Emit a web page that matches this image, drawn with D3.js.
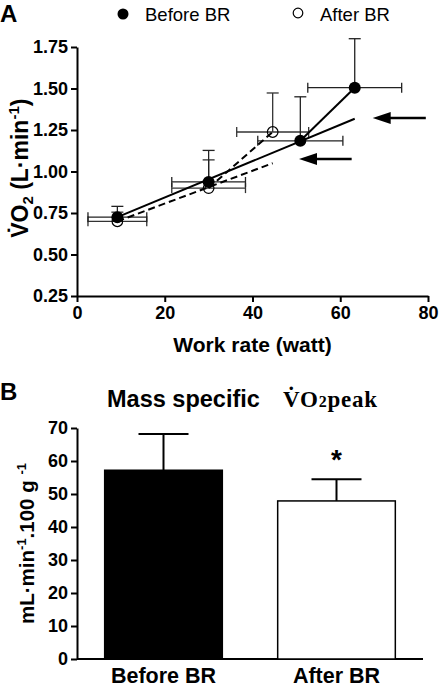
<!DOCTYPE html>
<html><head><meta charset="utf-8">
<script src="https://cdn.jsdelivr.net/npm/d3@7"></script>
<style>
body{margin:0;background:#fff;}
svg{display:block;font-family:Arial,"Liberation Sans",Helvetica,sans-serif;}
</style></head>
<body>
<svg id="c" width="440" height="687"></svg>
<script>
// ---------- Panel A data ----------
const beforeX   = [9.2, 30.0, 50.9, 63.3];
const beforeY   = [0.725, 0.937, 1.185, 1.505];
const beforeXErr= [6.7, 8.4, 9.7, 10.7];
const beforeYErr= [0.065, 0.19, 0.265, 0.295];

const afterX    = [9.2, 30.0, 44.6];
const afterY    = [0.70, 0.90, 1.238];
const afterXErr = [6.7, 8.4, 8.2];
const afterYErr = [0.055, 0.17, 0.235];

const beforeFit = [[9.2, 0.725], [63.3, 1.318]];
const afterFit  = [[9.2, 0.70], [44.6, 1.05]];
const arrows    = [[79.5, 67.4, 1.322], [62.6, 50.6, 1.075]]; // tail x, tip x, y

const xTicksA = [0, 20, 40, 60, 80];
const yTicksA = [0.25, 0.50, 0.75, 1.00, 1.25, 1.50, 1.75];

// ---------- Panel B data ----------
const groupsB = ["Before BR", "After BR"];
const meansB  = [57.2, 47.9];
const sdB     = [11.0, 6.6];
const yTicksB = [0, 10, 20, 30, 40, 50, 60, 70];

const svg = d3.select("#c");

// ================= Panel A =================
const xA = d3.scaleLinear().domain([0, 80]).range([77, 428]);
const yA = d3.scaleLinear().domain([0.25, 1.75]).range([296, 47]);

const gA = svg.append("g");
const axA = gA.append("g").attr("transform", `translate(0,${yA(0.25)})`)
  .call(d3.axisBottom(xA).tickValues(xTicksA).tickSize(6).tickSizeOuter(0).tickPadding(4).tickFormat(d3.format("d")));
const ayA = gA.append("g").attr("transform", `translate(${xA(0)},0)`)
  .call(d3.axisLeft(yA).tickValues(yTicksA).tickSize(6).tickSizeOuter(0).tickPadding(3).tickFormat(d3.format(".2f")));
[axA, ayA].forEach(a => {
  a.select(".domain").attr("stroke", "#000").attr("stroke-width", 2);
  a.selectAll(".tick line").attr("stroke", "#000").attr("stroke-width", 2);
  a.selectAll(".tick text").attr("font-size", 18).attr("font-weight", "bold").attr("fill", "#000")
    .attr("font-family", "Arial, 'Liberation Sans', sans-serif");
});

gA.append("text").attr("x", xA(40)).attr("y", 352).attr("text-anchor", "middle")
  .attr("font-size", 21).attr("font-weight", "bold").text("Work rate (watt)");

const yt = gA.append("text").attr("transform", `translate(28,${yA(1.02)}) rotate(-90)`)
  .attr("text-anchor", "middle").attr("font-size", 23).attr("font-weight", "bold");
yt.append("tspan").text("V\u0307O");
yt.append("tspan").attr("font-size", 15).attr("dy", 5).text("2");
yt.append("tspan").attr("dy", -5).text(" (L\u00B7min");
yt.append("tspan").attr("font-size", 15).attr("dy", -9).text("-1");
yt.append("tspan").attr("dy", 9).text(")");

gA.append("text").attr("x", 0).attr("y", 22).attr("font-size", 24).attr("font-weight", "bold").text("A");

// legend
gA.append("circle").attr("cx", 123).attr("cy", 14).attr("r", 5.5).attr("fill", "#000");
gA.append("text").attr("x", 145).attr("y", 20.5).attr("font-size", 18.5).text("Before BR");
gA.append("circle").attr("cx", 298).attr("cy", 13).attr("r", 4.8).attr("fill", "#fff").attr("stroke", "#000").attr("stroke-width", 1.2);
gA.append("text").attr("x", 320).attr("y", 20.5).attr("font-size", 18.5).text("After BR");

// error bars helper
function errBars(xs, ys, xe, ye, color) {
  xs.forEach((x, i) => {
    const cx = xA(x), cy = yA(ys[i]);
    const x0 = xA(x - xe[i]), x1 = xA(x + xe[i]), yt = yA(ys[i] + ye[i]);
    const g = gA.append("g").attr("stroke", color).attr("stroke-width", 1.3).attr("fill", "none");
    g.append("line").attr("x1", x0).attr("x2", x1).attr("y1", cy).attr("y2", cy);
    g.append("line").attr("x1", x0).attr("x2", x0).attr("y1", cy - 5).attr("y2", cy + 5);
    g.append("line").attr("x1", x1).attr("x2", x1).attr("y1", cy - 5).attr("y2", cy + 5);
    g.append("line").attr("x1", cx).attr("x2", cx).attr("y1", cy).attr("y2", yt);
    g.append("line").attr("x1", cx - 6).attr("x2", cx + 6).attr("y1", yt).attr("y2", yt);
  });
}
errBars(afterX, afterY, afterXErr, afterYErr, "#333");
errBars(beforeX, beforeY, beforeXErr, beforeYErr, "#222");

const line = d3.line().x(d => xA(d[0])).y(d => yA(d[1]));
// fits
gA.append("path").attr("d", line(beforeFit)).attr("stroke", "#000").attr("stroke-width", 2).attr("fill", "none");
gA.append("path").attr("d", line(afterFit)).attr("stroke", "#000").attr("stroke-width", 2)
  .attr("stroke-dasharray", "7,4").attr("fill", "none");
// break segments
gA.append("path").attr("d", line([[beforeX[2], beforeY[2]], [beforeX[3], beforeY[3]]]))
  .attr("stroke", "#000").attr("stroke-width", 2).attr("fill", "none");
gA.append("path").attr("d", line([[afterX[1], afterY[1]], [afterX[2], afterY[2]]]))
  .attr("stroke", "#000").attr("stroke-width", 2).attr("stroke-dasharray", "7,4").attr("fill", "none");

// points
gA.selectAll(".pa").data(afterX).enter().append("circle")
  .attr("cx", d => xA(d)).attr("cy", (d, i) => yA(afterY[i])).attr("r", 5.3)
  .attr("fill", "none").attr("stroke", "#000").attr("stroke-width", 1.2);
gA.selectAll(".pb").data(beforeX).enter().append("circle")
  .attr("cx", d => xA(d)).attr("cy", (d, i) => yA(beforeY[i])).attr("r", 6)
  .attr("fill", "#000");

// arrows
arrows.forEach(a => {
  const tx = xA(a[0]), hx = xA(a[1]), y = yA(a[2]);
  gA.append("line").attr("x1", tx).attr("x2", hx + 14).attr("y1", y).attr("y2", y)
    .attr("stroke", "#000").attr("stroke-width", 2.5);
  gA.append("path").attr("d", `M${hx},${y} L${hx + 18},${y - 6} L${hx + 18},${y + 6} Z`).attr("fill", "#000");
});

// ================= Panel B =================
const xB = d3.scaleBand().domain(groupsB).range([77, 423]).paddingInner(0.32).paddingOuter(0.16);
const yB = d3.scaleLinear().domain([0, 70]).range([659, 428]);

const gB = svg.append("g");
const axB = gB.append("g").attr("transform", `translate(0,${yB(0)})`)
  .call(d3.axisBottom(xB).tickSize(0).tickPadding(0));
axB.select(".domain").attr("stroke", "#000").attr("stroke-width", 2).attr("d", "M77,0H423");
axB.selectAll(".tick text").attr("font-size", 21.5).attr("font-weight", "bold").attr("fill", "#000")
  .attr("dy", null).attr("y", 24).attr("font-family", "Arial, 'Liberation Sans', sans-serif");

const ayB = gB.append("g").attr("transform", `translate(77,0)`)
  .call(d3.axisLeft(yB).tickValues(yTicksB).tickSize(6).tickSizeOuter(0).tickPadding(3));
ayB.select(".domain").attr("stroke", "#000").attr("stroke-width", 2);
ayB.selectAll(".tick line").attr("stroke", "#000").attr("stroke-width", 2);
ayB.selectAll(".tick text").attr("font-size", 18).attr("font-weight", "bold").attr("fill", "#000")
  .attr("font-family", "Arial, 'Liberation Sans', sans-serif");

// bars
gB.selectAll(".bar").data(groupsB).enter().append("rect")
  .attr("x", d => xB(d)).attr("width", xB.bandwidth())
  .attr("y", (d, i) => yB(meansB[i])).attr("height", (d, i) => yB(0) - yB(meansB[i]))
  .attr("fill", (d, i) => i === 0 ? "#000" : "#fff").attr("stroke", "#000").attr("stroke-width", 1.5);

// error bars
groupsB.forEach((g, i) => {
  const cx = xB(g) + xB.bandwidth() / 2;
  const top = yB(meansB[i] + sdB[i]);
  gB.append("line").attr("x1", cx).attr("x2", cx).attr("y1", yB(meansB[i])).attr("y2", top)
    .attr("stroke", "#000").attr("stroke-width", 2);
  gB.append("line").attr("x1", cx - 25).attr("x2", cx + 25).attr("y1", top).attr("y2", top)
    .attr("stroke", "#000").attr("stroke-width", 2);
});
// asterisk
gB.append("text").attr("x", xB("After BR") + xB.bandwidth() / 2).attr("y", yB(meansB[1] + sdB[1]) - 10)
  .attr("text-anchor", "middle").attr("font-size", 28).attr("font-weight", "bold").text("*");

gB.append("text").attr("x", 0).attr("y", 400).attr("font-size", 24).attr("font-weight", "bold").text("B");

gB.append("text").attr("x", 107).attr("y", 407).attr("font-size", 23.5).attr("font-weight", "bold").text("Mass specific");
const tt = gB.append("text").attr("x", 283).attr("y", 407).attr("font-size", 23).attr("font-weight", "bold")
  .attr("letter-spacing", 0.8)
  .attr("font-family", "'Liberation Serif','Times New Roman',serif");
tt.append("tspan").text("V\u0307O");
tt.append("tspan").attr("font-size", 16).text("2");
tt.append("tspan").text("peak");

const ytB = gB.append("text").attr("transform", `translate(34,${yB(35)}) rotate(-90)`)
  .attr("text-anchor", "middle").attr("font-size", 20.5).attr("font-weight", "bold");
ytB.append("tspan").text("mL\u00B7min");
ytB.append("tspan").attr("font-size", 13).attr("dy", -8).text("-1");
ytB.append("tspan").attr("dy", 8).text(".100 g ");
ytB.append("tspan").attr("font-size", 13).attr("dy", -8).text("-1");
</script>
</body></html>
